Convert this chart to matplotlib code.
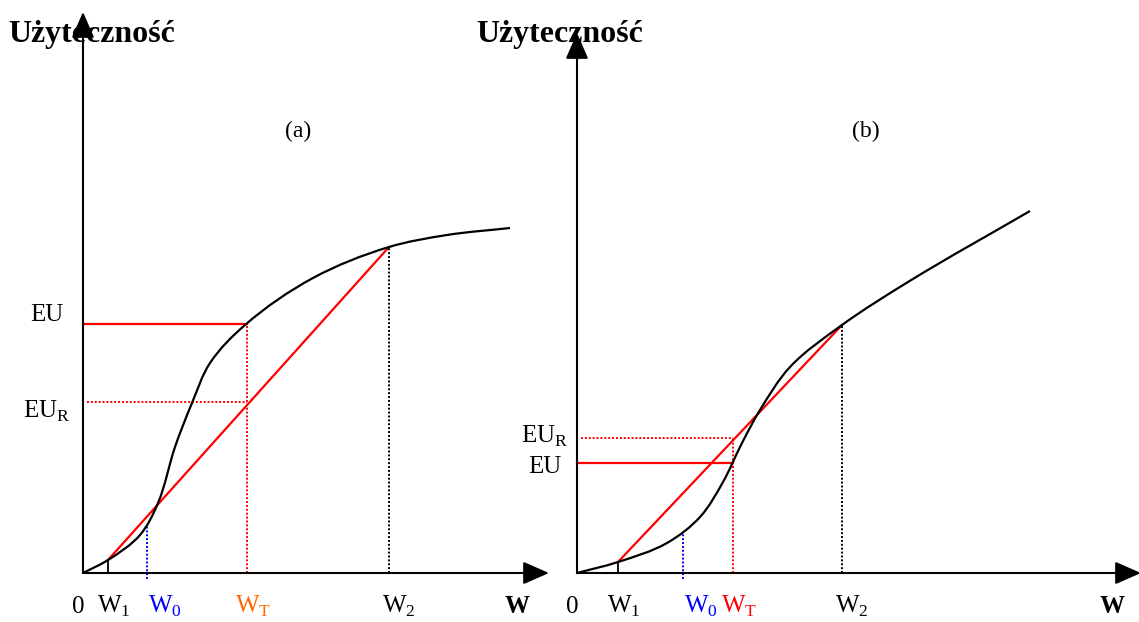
import matplotlib
matplotlib.use("Agg")
import matplotlib.pyplot as plt
import numpy as np
from matplotlib.path import Path
from matplotlib.patches import PathPatch

plt.rcParams["font.family"] = ["Liberation Serif", "DejaVu Serif"]
plt.rcParams["mathtext.fontset"] = "custom"
plt.rcParams["mathtext.rm"] = "Liberation Serif"

# panel (a): S-shaped utility, concave at the top
a_w = [0, 2.5, 5.7, 7.5, 9.2, 10.9, 12.7, 16.2, 23.0, 30.6, 36.4, 42.7]
a_u = [0, 1.3, 3.8, 7.0, 12.6, 17.0, 21.0, 24.8, 29.5, 32.6, 33.8, 34.5]
a_W1, a_W0, a_WT, a_W2 = 2.5, 6.4, 16.4, 30.6
a_U1, a_U0, a_U2 = 1.3, 4.9, 32.6
a_EU, a_EUR = 24.9, 17.1

# panel (b): convex at first, then nearly linear
b_w = [0, 4.1, 9.0, 12.3, 14.6, 16.5, 18.3, 21.3, 26.5, 33.1, 45.3]
b_u = [0, 1.1, 3.0, 5.6, 9.1, 13.0, 16.3, 20.6, 24.8, 29.1, 36.2]
b_W1, b_W0, b_WT, b_W2 = 4.1, 10.6, 15.6, 26.5
b_U1, b_U0, b_U2 = 1.1, 4.1, 24.8
b_EU, b_EUR = 11.0, 13.5

RED = "#ff0000"
BLUE = "#0000ff"
ORANGE = "#ff6600"
DOT = (0, (1, 1))


def smooth_path(x, y):
    # bezier through the read points, tangents from the neighbouring segments
    pts = np.column_stack([x, y]).astype(float)
    n = len(pts)
    segs = [(pts[i + 1] - pts[i]) / np.hypot(*(pts[i + 1] - pts[i])) for i in range(n - 1)]
    tang = [segs[0]]
    for i in range(1, n - 1):
        t = segs[i - 1] + segs[i]
        tang.append(t / np.hypot(*t))
    tang.append(segs[-1])
    verts = [pts[0]]
    codes = [Path.MOVETO]
    for i in range(n - 1):
        seg = np.hypot(*(pts[i + 1] - pts[i])) / 3
        verts += [pts[i] + tang[i] * seg, pts[i + 1] - tang[i + 1] * seg, pts[i + 1]]
        codes += [Path.CURVE4] * 3
    return Path(verts, codes)


def arrow(ax, start, end):
    ax.annotate("", xy=end, xytext=start,
                arrowprops=dict(arrowstyle="-|>,head_length=0.8,head_width=0.35",
                                mutation_scale=20, lw=1.5, color="k",
                                shrinkA=0, shrinkB=0),
                annotation_clip=False)


def panel(ax, xl, w, u, W1, W0, WT, W2, U1, U0, U2, EU, EUR, wt_color, wt_top):
    ax.set_xlim(xl)
    ax.set_ylim(-4.9, 57.3)
    ax.axis("off")
    ax.patch.set_alpha(0)
    ax.add_patch(PathPatch(smooth_path(w, u), fill=False, lw=1.6, color="k", zorder=3))
    ax.plot([W1, W2], [U1, U2], color=RED, lw=1.6, zorder=2)
    ax.plot([W1, W1], [0, U1], color="k", lw=1.3)
    ax.plot([W0, W0], [-0.6, U0], color=BLUE, lw=1.4, ls=DOT)
    ax.plot([WT, WT], [0, wt_top], color=RED, lw=1.4, ls=DOT)
    ax.plot([W2, W2], [0, U2], color="k", lw=1.4, ls=DOT)
    ax.plot([0, WT], [EU, EU], color=RED, lw=1.6)
    ax.plot([0.4, WT], [EUR, EUR], color=RED, lw=1.4, ls=DOT)

    fs = 18
    ax.text(-0.5, -4.0, "0", ha="center", va="baseline", fontsize=fs)
    ax.text(W1 + 0.6, -4.0, r"W$_\mathrm{1}$", ha="center", va="baseline", fontsize=fs)
    ax.text(W0 + 1.8, -4.0, r"W$_\mathrm{0}$", ha="center", va="baseline", fontsize=fs, color=BLUE)
    ax.text(WT + 0.6, -4.0, r"W$_\mathrm{T}$", ha="center", va="baseline", fontsize=fs, color=wt_color)
    ax.text(W2 + 1.0, -4.0, r"W$_\mathrm{2}$", ha="center", va="baseline", fontsize=fs)


fig = plt.figure(figsize=(11.39, 6.22), dpi=100)
ax_a = fig.add_axes([0, 0, 560 / 1139, 1])
ax_b = fig.add_axes([560 / 1139, 0, 579 / 1139, 1])

panel(ax_a, (-8.3, 47.7), a_w, a_u, a_W1, a_W0, a_WT, a_W2, a_U1, a_U0, a_U2,
      a_EU, a_EUR, ORANGE, a_EU)
panel(ax_b, (-1.7, 56.2), b_w, b_u, b_W1, b_W0, b_WT, b_W2, b_U1, b_U0, b_U2,
      b_EU, b_EUR, RED, b_EUR)

# axes with arrows
arrow(ax_a, (0, 0), (0, 56.1))
arrow(ax_a, (0, 0), (46.6, 0))
arrow(ax_b, (0, 0), (0, 54.0))
arrow(ax_b, (0, 0), (56.4, 0))

# axis captions
ax_a.text(-7.5, 53.8, "Użyteczność", fontsize=23, fontweight="bold", va="center", ha="left")
ax_b.text(-10.1, 53.8, "Użyteczność", fontsize=23, fontweight="bold", va="center", ha="left")
ax_a.text(43.4, -4.0, "W", fontsize=18, fontweight="bold", ha="center", va="baseline")
ax_b.text(53.5, -4.0, "W", fontsize=18, fontweight="bold", ha="center", va="baseline")
ax_a.text(21.5, 44.2, "(a)", fontsize=17, ha="center", va="center")
ax_b.text(28.9, 44.2, "(b)", fontsize=17, ha="center", va="center")

# EU labels
ax_a.text(-3.6, a_EU + 0.9, "EU", fontsize=18, ha="center", va="center")
ax_a.text(-3.6, a_EUR - 0.9, r"EU$_\mathrm{R}$", fontsize=18, ha="center", va="center")
ax_b.text(-3.2, b_EUR + 0.2, r"EU$_\mathrm{R}$", fontsize=18, ha="center", va="center")
ax_b.text(-3.2, b_EU - 0.4, "EU", fontsize=18, ha="center", va="center")

fig.savefig("out.png", dpi=100)
